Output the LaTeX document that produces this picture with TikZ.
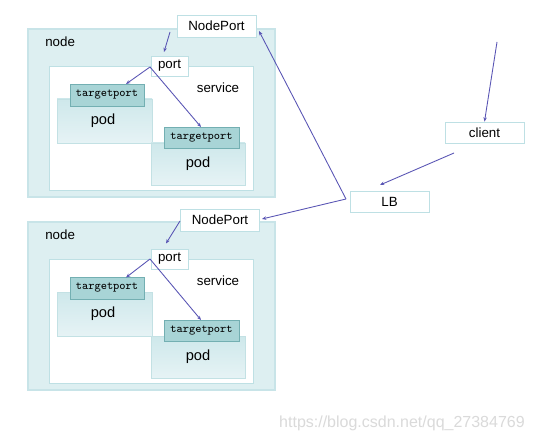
\documentclass[tikz,border=0pt]{standalone}
\usepackage{fontspec}
\setmainfont{Liberation Sans}
\usetikzlibrary{arrows.meta,calc}
\definecolor{outerfill}{RGB}{221,239,241}
\definecolor{outerline}{RGB}{200,228,232}
\definecolor{podtop}{RGB}{206,232,235}
\definecolor{podbot}{RGB}{230,243,245}
\definecolor{podline}{RGB}{195,225,228}
\definecolor{tpfill}{RGB}{168,212,214}
\definecolor{tpline}{RGB}{115,175,178}
\definecolor{boxline}{RGB}{190,224,228}
\definecolor{arr}{RGB}{88,84,180}
\definecolor{wm}{RGB}{218,218,218}
\tikzset{
  outerbox/.style={draw=outerline,fill=outerfill,line width=0.8pt,inner sep=0pt},
  svcbox/.style={draw=boxline,fill=white,line width=0.6pt,inner sep=0pt},
  podbox/.style={draw=podline,top color=podtop,bottom color=podbot,line width=0.6pt,inner sep=0pt},
  tpbox/.style={draw=tpline,fill=tpfill,line width=0.6pt,inner sep=0pt,font=\ttfamily\fontsize{8.9}{10}\selectfont},
  wbox/.style={draw=boxline,fill=white,line width=0.6pt,inner sep=0pt,font=\fontsize{10}{12}\selectfont},
  lbl/.style={inner sep=0pt,font=\fontsize{10}{12}\selectfont},
  podlbl/.style={inner sep=0pt,font=\fontsize{11}{13}\selectfont},
  conn/.style={draw=arr,line width=0.65pt,-{Stealth[length=3.2pt,width=2.6pt]}}
}
\begin{document}
\begin{tikzpicture}[x=0.75pt,y=-0.75pt]
\useasboundingbox (0,0) rectangle (534,438);
\fill[white] (0,0) rectangle (534,438);

% ---------- top panel ----------
\node[outerbox,minimum width=247*0.75pt,minimum height=168*0.75pt] (nodeA) at (151.5,113) {};
\node[lbl,anchor=west] (nodeAl) at (45,42) {node};
\node[svcbox,minimum width=204*0.75pt,minimum height=124*0.75pt] (svcA) at (151,128) {};
\node[lbl] (svcAl) at (218,88) {service};
\node[podbox,minimum width=95*0.75pt,minimum height=44*0.75pt] (podA1) at (104.5,121) {};
\node[podlbl] (podA1l) at (103,121) {pod};
\node[tpbox,minimum width=74*0.75pt,minimum height=22*0.75pt] (tpA1) at (107,95) {targetport};
\node[podbox,minimum width=94*0.75pt,minimum height=42*0.75pt] (podA2) at (198,164) {};
\node[podlbl] (podA2l) at (198,164) {pod};
\node[tpbox,minimum width=75*0.75pt,minimum height=21*0.75pt] (tpA2) at (201.5,137.5) {targetport};
\node[wbox,minimum width=79*0.75pt,minimum height=22*0.75pt] (npA) at (216.5,26) {NodePort};
\node[wbox,minimum width=37*0.75pt,minimum height=20*0.75pt] (portA) at (169.5,66) {port};

% ---------- bottom panel ----------
\node[outerbox,minimum width=247*0.75pt,minimum height=168*0.75pt] (nodeB) at (151.5,306) {};
\node[lbl,anchor=west] (nodeBl) at (45,235) {node};
\node[svcbox,minimum width=204*0.75pt,minimum height=124*0.75pt] (svcB) at (151,321) {};
\node[lbl] (svcBl) at (218,281) {service};
\node[podbox,minimum width=95*0.75pt,minimum height=44*0.75pt] (podB1) at (104.5,314) {};
\node[podlbl] (podB1l) at (103,314) {pod};
\node[tpbox,minimum width=74*0.75pt,minimum height=22*0.75pt] (tpB1) at (107,288) {targetport};
\node[podbox,minimum width=94*0.75pt,minimum height=42*0.75pt] (podB2) at (198,357) {};
\node[podlbl] (podB2l) at (198,357) {pod};
\node[tpbox,minimum width=75*0.75pt,minimum height=21*0.75pt] (tpB2) at (201.5,330.5) {targetport};
\node[wbox,minimum width=79*0.75pt,minimum height=22*0.75pt] (npB) at (220,220) {NodePort};
\node[wbox,minimum width=37*0.75pt,minimum height=20*0.75pt] (portB) at (169.5,259) {port};

% ---------- right side ----------
\node[wbox,minimum width=79*0.75pt,minimum height=21*0.75pt] (client) at (484.5,132.5) {client};
\node[wbox,minimum width=79*0.75pt,minimum height=21*0.75pt] (lb) at (389.5,201.5) {LB};

\node[inner sep=0pt,text=wm,font=\fontsize{12}{14}\selectfont,anchor=east] (wmark) at (525,423) {https://blog.csdn.net/qq\_27384769};

% ---------- connectors ----------
\coordinate (cin) at (497,42);
\coordinate (cout) at (454,153);
\coordinate (lbin) at (380,185);
\coordinate (lbout) at (346,199);
\coordinate (npAend) at (259,31);
\coordinate (npBend) at (262,219);
\coordinate (npAout) at (170,32);
\coordinate (portAin) at (164,52);
\coordinate (portAout) at (150,67);
\coordinate (tpA1in) at (126,84);
\coordinate (tpA2in) at (201,127);
\coordinate (npBout) at (180,221);
\coordinate (portBin) at (166,243.5);
\coordinate (portBout) at (150,259);
\coordinate (tpB1in) at (126,277.5);
\coordinate (tpB2in) at (201,320);

\draw[conn] (cin) -- (client.north);
\draw[conn] (cout) -- (lbin);
\draw[conn] (lbout) -- (npAend);
\draw[conn] (lbout) -- (npBend);
\draw[conn] (npAout) -- (portAin);
\draw[conn] (portAout) -- (tpA1in);
\draw[conn] (portAout) -- (tpA2in);
\draw[conn] (npBout) -- (portBin);
\draw[conn] (portBout) -- (tpB1in);
\draw[conn] (portBout) -- (tpB2in);
\end{tikzpicture}
\end{document}
